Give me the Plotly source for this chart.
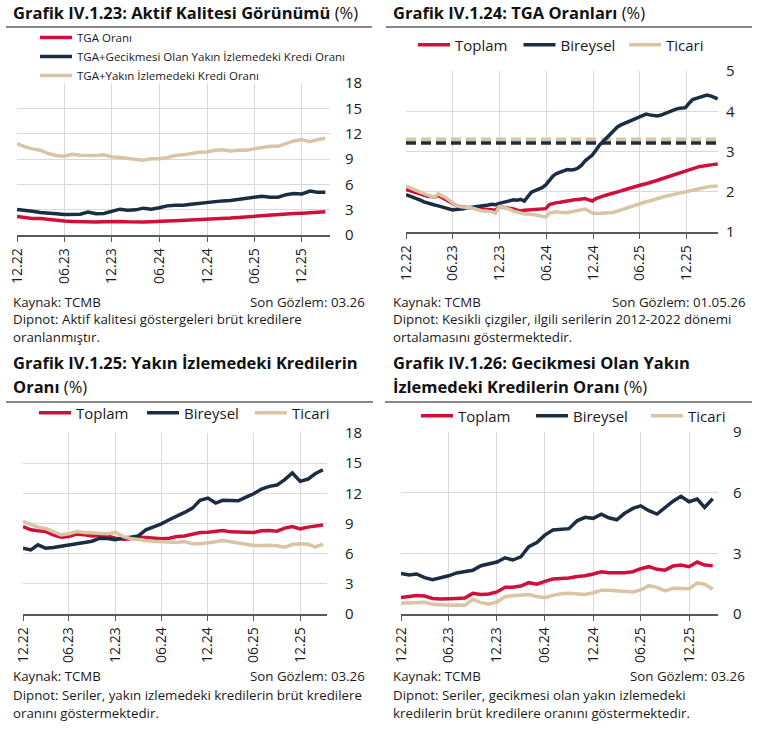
import plotly.graph_objects as go
import pandas as pd

W, H = 761, 736
RED, NAVY, BEIGE = "#D0103A", "#1B2D42", "#D9C4A3"
FONT = "Open Sans"
TXT = "#1a1a1a"

# ---------------- data ----------------
months = pd.date_range("2022-12-31", "2026-03-31", freq="ME")      # 12.22 .. 03.26
weeks = pd.date_range("2022-12-30", "2026-05-01", freq="14D")      # 30.12.22 .. 01.05.26
tick_dates = ["2022-12-31", "2023-06-30", "2023-12-31", "2024-06-30",
              "2024-12-31", "2025-06-30", "2025-12-31"]

# Grafik IV.1.23
tga = [2.20, 2.08, 1.96, 1.96, 1.84, 1.73, 1.65, 1.61, 1.57, 1.53, 1.53, 1.57, 1.61, 1.61,
       1.57, 1.53, 1.53, 1.57, 1.57, 1.65, 1.69, 1.73, 1.76, 1.80, 1.80, 1.88, 1.96, 2.00,
       2.08, 2.16, 2.20, 2.24, 2.31, 2.39, 2.47, 2.55, 2.59, 2.67, 2.71, 2.75]
tga_gec = [3.02, 2.94, 2.82, 2.67, 2.63, 2.51, 2.43, 2.43, 2.47, 2.71, 2.51, 2.55, 2.82, 3.06,
           2.94, 2.98, 3.18, 3.06, 3.22, 3.45, 3.53, 3.53, 3.65, 3.76, 3.80, 4.00, 4.04, 4.08,
           4.20, 4.31, 4.47, 4.59, 4.47, 4.47, 4.78, 4.90, 4.86, 5.20, 5.06, 5.06]
tga_yak = [10.82, 10.43, 10.20, 10.04, 9.65, 9.41, 9.33, 9.57, 9.45, 9.41, 9.41, 9.49, 9.25,
           9.18, 9.10, 8.94, 8.86, 9.02, 9.02, 9.18, 9.41, 9.49, 9.65, 9.80, 9.84, 10.04,
           10.10, 9.96, 10.04, 10.04, 10.20, 10.35, 10.50, 10.50, 10.82, 11.14, 11.29, 11.06,
           11.29, 11.45]

# Grafik IV.1.24 (biweekly)
tga_top = [2.06, 2.03, 1.99, 1.96, 1.93, 1.91, 1.89, 1.88, 1.87, 1.91, 1.86, 1.81, 1.76, 1.70,
           1.66, 1.63, 1.62, 1.61, 1.61, 1.60, 1.58, 1.58, 1.58, 1.57, 1.55, 1.54, 1.63, 1.62,
           1.61, 1.59, 1.57, 1.54, 1.52, 1.54, 1.55, 1.55, 1.55, 1.56, 1.57, 1.58, 1.68, 1.71,
           1.73, 1.74, 1.76, 1.77, 1.78, 1.80, 1.81, 1.82, 1.83, 1.80, 1.77, 1.83, 1.87, 1.89,
           1.92, 1.94, 1.96, 1.99, 2.02, 2.05, 2.08, 2.10, 2.12, 2.16, 2.18, 2.20, 2.22, 2.25,
           2.28, 2.31, 2.34, 2.37, 2.40, 2.43, 2.46, 2.48, 2.51, 2.55, 2.59, 2.61, 2.63, 2.64,
           2.66, 2.67, 2.68, 2.69]
tga_bir = [1.93, 1.90, 1.87, 1.83, 1.79, 1.75, 1.72, 1.68, 1.67, 1.65, 1.62, 1.59, 1.57, 1.55,
           1.56, 1.56, 1.58, 1.60, 1.61, 1.62, 1.64, 1.63, 1.66, 1.67, 1.69, 1.68, 1.71, 1.73,
           1.75, 1.77, 1.80, 1.79, 1.81, 1.77, 1.88, 1.99, 2.03, 2.06, 2.10, 2.17, 2.28, 2.39,
           2.45, 2.49, 2.53, 2.55, 2.54, 2.55, 2.59, 2.66, 2.77, 2.84, 2.91, 3.03, 3.16, 3.25,
           3.34, 3.43, 3.52, 3.61, 3.66, 3.70, 3.73, 3.77, 3.81, 3.86, 3.89, 3.93, 3.91, 3.90,
           3.88, 3.90, 3.94, 3.98, 4.01, 4.04, 4.07, 4.08, 4.09, 4.20, 4.29, 4.32, 4.35, 4.38,
           4.40, 4.38, 4.35, 4.31]
tga_tic = [2.14, 2.11, 2.07, 2.03, 1.99, 1.95, 1.91, 1.89, 1.88, 1.95, 1.90, 1.86, 1.79, 1.72,
           1.66, 1.63, 1.61, 1.61, 1.61, 1.58, 1.56, 1.53, 1.52, 1.52, 1.50, 1.47, 1.63, 1.62,
           1.60, 1.56, 1.52, 1.49, 1.47, 1.45, 1.45, 1.45, 1.43, 1.41, 1.38, 1.37, 1.47, 1.49,
           1.50, 1.49, 1.48, 1.48, 1.50, 1.52, 1.53, 1.55, 1.57, 1.52, 1.47, 1.46, 1.46, 1.47,
           1.47, 1.48, 1.49, 1.52, 1.56, 1.59, 1.62, 1.65, 1.67, 1.69, 1.72, 1.75, 1.77, 1.79,
           1.82, 1.85, 1.88, 1.90, 1.93, 1.96, 1.98, 2.00, 2.02, 2.04, 2.06, 2.08, 2.10, 2.11,
           2.12, 2.13, 2.14, 2.14]
avg_bir = 3.21   # 2012-2022 average, Bireysel
avg_tic = 3.30   # 2012-2022 average, Ticari

# Grafik IV.1.25
yi_top = [8.70, 8.37, 8.27, 8.20, 7.87, 7.64, 7.70, 7.94, 7.87, 7.77, 7.81, 7.77, 7.54, 7.44,
          7.48, 7.64, 7.61, 7.54, 7.48, 7.54, 7.70, 7.75, 7.94, 8.11, 8.14, 8.24, 8.31, 8.17,
          8.17, 8.14, 8.11, 8.27, 8.31, 8.24, 8.54, 8.70, 8.47, 8.64, 8.70, 8.85]
yi_bir = [6.54, 6.38, 6.88, 6.54, 6.61, 6.71, 6.81, 6.98, 7.11, 7.24, 7.54, 7.51, 7.38, 7.57,
          7.64, 7.77, 8.37, 8.64, 8.97, 9.37, 9.70, 10.10, 10.53, 11.30, 11.53, 11.03, 11.30,
          11.30, 11.26, 11.63, 11.96, 12.43, 12.69, 12.82, 13.36, 14.02, 13.19, 13.42, 13.95,
          14.35]
yi_tic = [9.20, 8.87, 8.64, 8.50, 8.20, 7.87, 7.97, 8.20, 8.11, 8.04, 8.04, 7.97, 8.11, 7.70,
          7.51, 7.38, 7.31, 7.24, 7.18, 7.11, 7.11, 7.21, 6.98, 6.98, 7.04, 7.18, 7.31, 7.18,
          7.04, 6.98, 6.81, 6.81, 6.84, 6.78, 6.64, 6.91, 6.98, 6.94, 6.65, 6.95]

# Grafik IV.1.26
gy_top = [0.82, 0.86, 0.91, 0.89, 0.77, 0.74, 0.74, 0.77, 0.79, 1.02, 0.97, 0.99, 1.09, 1.32,
          1.32, 1.38, 1.55, 1.47, 1.61, 1.73, 1.76, 1.78, 1.85, 1.89, 1.98, 2.09, 2.04, 2.03,
          2.04, 2.09, 2.24, 2.34, 2.21, 2.17, 2.37, 2.42, 2.34, 2.57, 2.42, 2.39]
gy_bir = [2.01, 1.93, 1.98, 1.80, 1.70, 1.78, 1.89, 2.03, 2.08, 2.16, 2.39, 2.50, 2.57, 2.78,
          2.67, 2.83, 3.33, 3.53, 3.90, 4.15, 4.20, 4.22, 4.61, 4.78, 4.73, 4.94, 4.76, 4.66,
          4.98, 5.22, 5.35, 5.11, 4.94, 5.26, 5.58, 5.82, 5.55, 5.68, 5.27, 5.70]
gy_tic = [0.53, 0.56, 0.58, 0.58, 0.48, 0.44, 0.43, 0.44, 0.43, 0.72, 0.56, 0.49, 0.59, 0.86,
          0.89, 0.91, 0.96, 0.86, 0.81, 0.92, 1.00, 1.02, 1.00, 0.97, 1.05, 1.17, 1.17, 1.15,
          1.14, 1.09, 1.19, 1.40, 1.32, 1.14, 1.27, 1.27, 1.25, 1.53, 1.47, 1.22]


# ---------------- helpers ----------------
def px(x):
    return x / W


def py(y):
    return 1 - y / H


fig = go.Figure()
LW = 3.5


def line(x, y, name, color, xa, ya, leg, show=True, dash=None, width=LW, group=None):
    fig.add_trace(go.Scatter(
        x=x, y=y, name=name, mode="lines",
        line=dict(color=color, width=width, dash=dash),
        xaxis=xa, yaxis=ya, legend=leg, showlegend=show, legendgroup=group,
        hoverinfo="skip"))


# Panel 1
line(months, tga, "TGA Oranı", RED, "x", "y", "legend", group="a")
line(months, tga_gec, "TGA+Gecikmesi Olan Yakın İzlemedeki Kredi Oranı", NAVY, "x", "y",
     "legend", group="b")
line(months, tga_yak, "TGA+Yakın İzlemedeki Kredi Oranı", BEIGE, "x", "y", "legend", group="c")

# Panel 2
line([weeks[0], weeks[-1]], [avg_tic, avg_tic], "Ticari ort.", BEIGE, "x2", "y2", "legend2",
     show=False, dash="10px,5px", width=4)
line([weeks[0], weeks[-1]], [avg_bir, avg_bir], "Bireysel ort.", NAVY, "x2", "y2", "legend2",
     show=False, dash="10px,5px", width=3.5)
line(weeks, tga_top, "Toplam", RED, "x2", "y2", "legend2")
line(weeks, tga_bir, "Bireysel", NAVY, "x2", "y2", "legend2")
line(weeks, tga_tic, "Ticari", BEIGE, "x2", "y2", "legend2")

# Panel 3
line(months, yi_top, "Toplam", RED, "x3", "y3", "legend3")
line(months, yi_bir, "Bireysel", NAVY, "x3", "y3", "legend3")
line(months, yi_tic, "Ticari", BEIGE, "x3", "y3", "legend3")

# Panel 4
line(months, gy_top, "Toplam", RED, "x4", "y4", "legend4")
line(months, gy_bir, "Bireysel", NAVY, "x4", "y4", "legend4")
line(months, gy_tic, "Ticari", BEIGE, "x4", "y4", "legend4")

GRID = "#d9d9d9"
AXL = "#595959"


def xaxis(dom, rng, anchor):
    return dict(domain=[px(dom[0]), px(dom[1])], range=rng, anchor=anchor, type="date",
                tickvals=tick_dates, tickformat="%m.%y", tickangle=-90,
                tickfont=dict(family=FONT, size=14, color=TXT),
                showgrid=True, gridcolor=GRID, gridwidth=1,
                showline=True, linecolor=AXL, linewidth=1.5,
                ticks="outside", ticklen=5, tickcolor=AXL, tickwidth=1,
                ticklabelstandoff=1, zeroline=False, fixedrange=True, automargin=False)


def yaxis(dom, rng, dtick, anchor, standoff):
    return dict(domain=[py(dom[1]), py(dom[0])], range=rng, dtick=dtick, tick0=0,
                anchor=anchor, side="right", showgrid=True, gridcolor=GRID, gridwidth=1,
                showline=False, zeroline=False, ticks="",
                tickfont=dict(family=FONT, size=15, color=TXT),
                ticklabelstandoff=standoff, fixedrange=True, automargin=False)


fig.update_layout(
    width=W, height=H, margin=dict(l=0, r=0, t=0, b=0, pad=0, autoexpand=False),
    paper_bgcolor="white", plot_bgcolor="white",
    font=dict(family=FONT, color=TXT),
    xaxis=xaxis((17, 330), ["2022-12-31", "2026-04-18"], "y"),
    yaxis=yaxis((83, 235), [0, 18], 3, "x", 14),
    xaxis2=xaxis((406, 718), ["2022-12-30", "2026-05-02"], "y2"),
    yaxis2=yaxis((71, 232), [1, 5], 1, "x2", 7),
    xaxis3=xaxis((23, 327), ["2022-12-31", "2026-04-16"], "y3"),
    yaxis3=yaxis((433, 614), [0, 18], 3, "x3", 17),
    xaxis4=xaxis((401, 718), ["2022-12-31", "2026-04-20"], "y4"),
    yaxis4=yaxis((432, 614), [0, 9], 3, "x4", 14),
)

legbase = dict(bgcolor="rgba(0,0,0,0)", borderwidth=0, traceorder="normal",
               itemclick=False, itemdoubleclick=False, itemwidth=32)
fig.update_layout(
    legend=dict(**legbase, orientation="v", x=px(35), y=py(23), xanchor="left", yanchor="top",
                font=dict(family=FONT, size=11.5, color=TXT), tracegroupgap=2),
    legend2=dict(**legbase, orientation="h", x=px(413), y=py(45), xanchor="left",
                 yanchor="middle", font=dict(family=FONT, size=15, color=TXT),
                 entrywidth=58.5, entrywidthmode="pixels"),
    legend3=dict(**legbase, orientation="h", x=px(34), y=py(413), xanchor="left",
                 yanchor="middle", font=dict(family=FONT, size=15, color=TXT),
                 entrywidth=61, entrywidthmode="pixels"),
    legend4=dict(**legbase, orientation="h", x=px(416), y=py(416), xanchor="left",
                 yanchor="middle", font=dict(family=FONT, size=15, color=TXT),
                 entrywidth=68, entrywidthmode="pixels"),
)

ann = []


def text(x, y, s, size=13.3, anchor="left", color=TXT):
    ann.append(dict(x=px(x), y=py(y), xref="paper", yref="paper", text=s, showarrow=False,
                    xanchor=anchor, yanchor="middle", borderpad=0,
                    font=dict(family=FONT, size=size, color=color)))


TS = 16.5
text(12, 13, "<b>Grafik IV.1.23: Aktif Kalitesi Görünümü</b> (%)", TS, color="#111")
text(392, 13, "<b>Grafik IV.1.24: TGA Oranları</b> (%)", TS, color="#111")
text(12, 363, "<b>Grafik IV.1.25: Yakın İzlemedeki Kredilerin</b>", TS, color="#111")
text(12, 386, "<b>Oranı</b> (%)", TS, color="#111")
text(392, 363, "<b>Grafik IV.1.26: Gecikmesi Olan Yakın</b>", TS, color="#111")
text(392, 386, "<b>İzlemedeki Kredilerin Oranı</b> (%)", TS, color="#111")

text(12, 302, "Kaynak: TCMB")
text(366, 302, "Son Gözlem: 03.26", anchor="right")
text(12, 319, "Dipnot: Aktif kalitesi göstergeleri brüt kredilere")
text(12, 337, "oranlanmıştır.")

text(392, 302, "Kaynak: TCMB")
text(746, 302, "Son Gözlem: 01.05.26", anchor="right")
text(392, 319, "Dipnot: Kesikli çizgiler, ilgili serilerin 2012-2022 dönemi")
text(392, 337, "ortalamasını göstermektedir.")

text(12, 676, "Kaynak: TCMB")
text(366, 676, "Son Gözlem: 03.26", anchor="right")
text(12, 695, "Dipnot: Seriler, yakın izlemedeki kredilerin brüt kredilere")
text(12, 713, "oranını göstermektedir.")

text(392, 676, "Kaynak: TCMB")
text(746, 676, "Son Gözlem: 03.26", anchor="right")
text(392, 695, "Dipnot: Seriler, gecikmesi olan yakın izlemedeki")
text(392, 713, "kredilerin brüt kredilere oranını göstermektedir.")

shapes = []
for (x0, x1, y) in [(6, 372, 27), (386, 752, 27), (6, 373, 402), (385, 752, 402)]:
    shapes.append(dict(type="line", xref="paper", yref="paper", x0=px(x0), x1=px(x1),
                       y0=py(y), y1=py(y), line=dict(color="#111", width=1.2)))

fig.update_layout(annotations=ann, shapes=shapes)
fig.write_html("out.html", config={"displayModeBar": False},
               post_script="document.body.style.margin='0px';")
